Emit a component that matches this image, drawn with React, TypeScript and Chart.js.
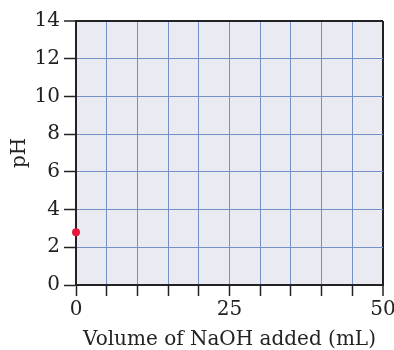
import React, { useEffect, useRef } from "react";
import { Chart, registerables } from "chart.js";

Chart.register(...registerables);

const xValues = [0];
const phValues = [2.8];
const xTickLabels = [0, 25, 50];
const xTitle = "Volume of NaOH added (mL)";
const yTitle = "pH";

const FONT = "'DejaVu Serif', 'Liberation Serif', serif";
const GRID = "#7590c6";
const DARK = "#222222";
const BG = "#e9eaf2";
const POINT = "#e8173c";

const bgPlugin = {
  id: "plotBg",
  beforeDraw(chart: any) {
    const { ctx, chartArea } = chart;
    ctx.save();
    ctx.fillStyle = BG;
    ctx.fillRect(chartArea.left, chartArea.top, chartArea.right - chartArea.left, chartArea.bottom - chartArea.top);
    ctx.restore();
  },
};

export default function App() {
  const ref = useRef<HTMLCanvasElement | null>(null);
  useEffect(() => {
    if (!ref.current) return;
    const chart = new Chart(ref.current, {
      type: "scatter",
      data: {
        datasets: [
          {
            data: xValues.map((x, i) => ({ x, y: phValues[i] })),
            backgroundColor: POINT,
            borderColor: POINT,
            pointRadius: 4,
            borderWidth: 0,
            clip: false,
          },
        ],
      },
      options: {
        animation: false,
        responsive: false,
        layout: { padding: { top: 21, right: 11, left: 0, bottom: 0 } },
        plugins: { legend: { display: false }, tooltip: { enabled: false } },
        scales: {
          x: {
            type: "linear",
            min: 0,
            max: 50,
            afterFit: (s: any) => { s.height = 65; s.paddingLeft = 0; s.paddingRight = 0; },
            border: { display: true, color: DARK, width: 2 },
            grid: {
              color: (c: any) => (c.tick && c.tick.value === 50 ? DARK : GRID),
              lineWidth: (c: any) => (c.tick && c.tick.value === 50 ? 2 : 1),
              tickColor: DARK,
              tickLength: 11,
              tickWidth: 1.5,
            },
            ticks: {
              stepSize: 5,
              padding: 2,
              maxRotation: 0,
              autoSkip: false,
              color: "#222",
              font: { family: FONT, size: 20 },
              callback: (v: any) => (xTickLabels.includes(Number(v)) ? String(v) : ""),
            },
            title: {
              display: true,
              text: xTitle,
              color: "#222",
              font: { family: FONT, size: 20 },
              padding: { top: 0, bottom: -2 },
            },
          },
          y: {
            type: "linear",
            min: 0,
            max: 14,
            afterFit: (s: any) => { s.width = 76; s.paddingTop = 0; s.paddingBottom = 0; },
            border: { display: true, color: DARK, width: 2 },
            grid: {
              color: (c: any) => (c.tick && c.tick.value === 14 ? DARK : GRID),
              lineWidth: (c: any) => (c.tick && c.tick.value === 14 ? 2 : 1),
              tickColor: DARK,
              tickLength: 12,
              tickWidth: 1.5,
            },
            ticks: {
              stepSize: 2,
              padding: 4,
              color: "#222",
              font: { family: FONT, size: 20 },
            },
            title: {
              display: true,
              text: yTitle,
              color: "#222",
              font: { family: FONT, size: 20 },
              padding: { top: 8, bottom: 0 },
            },
          },
        },
      },
      plugins: [bgPlugin],
    } as any);
    return () => chart.destroy();
  }, []);
  return (
    <div style={{ position: "absolute", left: 0, top: 0, width: 394, height: 350, background: "#fff" }}>
      <canvas ref={ref} width={394} height={350} style={{ width: 394, height: 350 }} />
    </div>
  );
}
